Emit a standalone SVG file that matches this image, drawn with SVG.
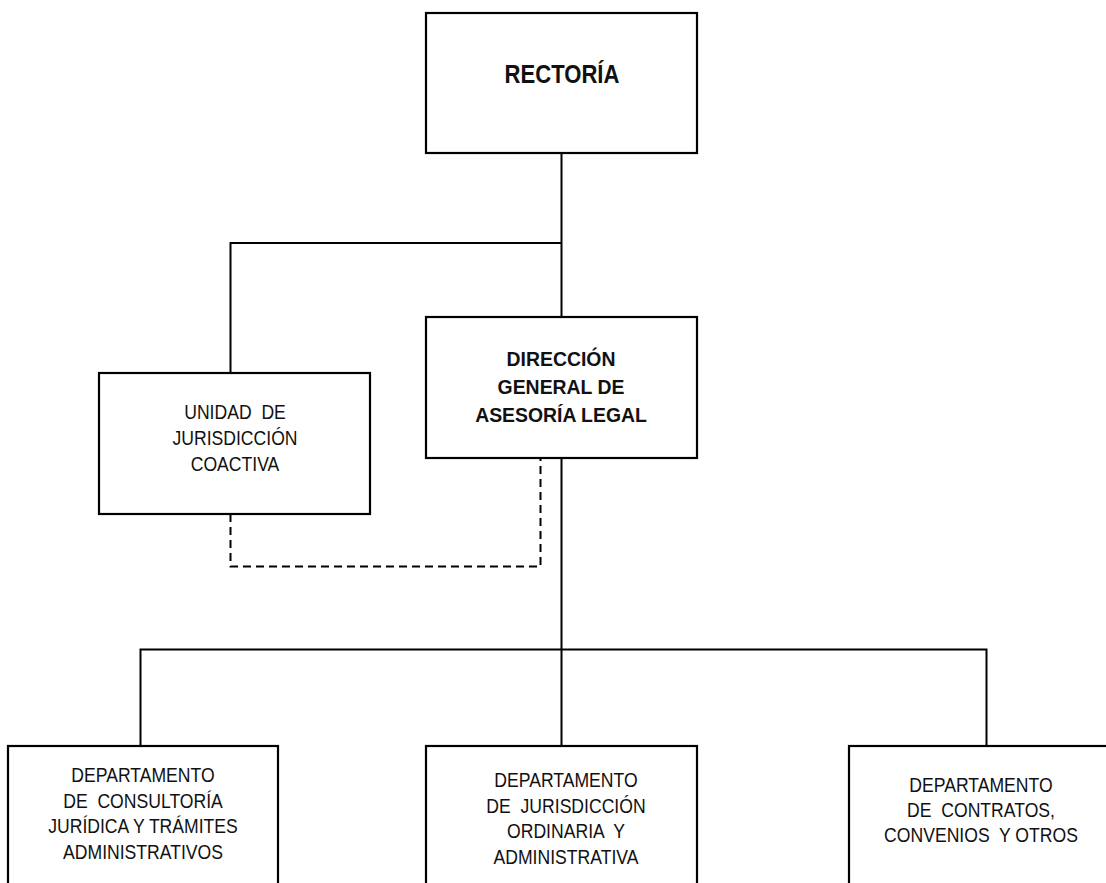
<svg xmlns="http://www.w3.org/2000/svg" width="1106" height="883" viewBox="0 0 1106 883">
  <style>
    .box { fill: #ffffff; stroke: #000000; stroke-width: 2.2; }
    .link { fill: none; stroke: #000000; stroke-width: 2; }
    .dash { fill: none; stroke: #000000; stroke-width: 2; stroke-dasharray: 8 5; }
    .t { font-family: "Liberation Sans", Arial, sans-serif; text-anchor: middle; fill: #111111; white-space: pre; }
    .reg { font-size: 20px; }
    .bold { font-size: 20px; font-weight: bold; }
    .big { font-size: 24px; font-weight: bold; }
  </style>
  <rect width="1106" height="883" fill="#ffffff"/>

  <!-- connectors -->
  <g id="connectors">
    <path class="link" d="M561.5 153 V317"/>
    <path class="link" d="M561.5 243 H230.5 V373"/>
    <path class="dash" d="M230.5 514 V566.5 H540.5 V458"/>
    <path class="link" d="M561.5 458 V746"/>
    <path class="link" d="M140.5 746 V649.5 H986.5 V746"/>
  </g>

  <g id="rectoria">
    <rect class="box" x="426" y="13" width="271" height="140"/>
    <g transform="translate(562,0) scale(0.92,1.04)">
      <text class="t big" x="0" y="80">RECTORÍA</text>
    </g>
  </g>

  <g id="direccion">
    <rect class="box" x="426" y="317" width="271" height="141"/>
    <g transform="translate(561,0) scale(0.97,1.04)">
      <text class="t bold" x="0" y="352" xml:space="preserve">DIRECCIÓN<tspan x="0" dy="27">GENERAL DE</tspan><tspan x="0" dy="27">ASESORÍA LEGAL</tspan></text>
    </g>
  </g>

  <g id="unidad">
    <rect class="box" x="99" y="373" width="271" height="141"/>
    <g transform="translate(235,0) scale(0.88,1.04)">
      <text class="t reg" x="0" y="403" xml:space="preserve">UNIDAD  DE<tspan x="0" dy="25">JURISDICCIÓN</tspan><tspan x="0" dy="25">COACTIVA</tspan></text>
    </g>
  </g>

  <g id="dep-consultoria">
    <rect class="box" x="8" y="746" width="270" height="150"/>
    <g transform="translate(143,0) scale(0.88,1.04)">
      <text class="t reg" x="0" y="752" xml:space="preserve">DEPARTAMENTO<tspan x="0" dy="24.5">DE  CONSULTORÍA</tspan><tspan x="0" dy="24.5">JURÍDICA Y TRÁMITES</tspan><tspan x="0" dy="24.5">ADMINISTRATIVOS</tspan></text>
    </g>
  </g>

  <g id="dep-jurisdiccion">
    <rect class="box" x="426" y="746" width="271" height="150"/>
    <g transform="translate(566,0) scale(0.88,1.04)">
      <text class="t reg" x="0" y="757" xml:space="preserve">DEPARTAMENTO<tspan x="0" dy="24.5">DE  JURISDICCIÓN</tspan><tspan x="0" dy="24.5">ORDINARIA  Y</tspan><tspan x="0" dy="24.5">ADMINISTRATIVA</tspan></text>
    </g>
  </g>

  <g id="dep-contratos">
    <rect class="box" x="849" y="746" width="270" height="150"/>
    <g transform="translate(981,0) scale(0.88,1.04)">
      <text class="t reg" x="0" y="762" xml:space="preserve">DEPARTAMENTO<tspan x="0" dy="24">DE  CONTRATOS,</tspan><tspan x="0" dy="24">CONVENIOS  Y OTROS</tspan></text>
    </g>
  </g>
</svg>
